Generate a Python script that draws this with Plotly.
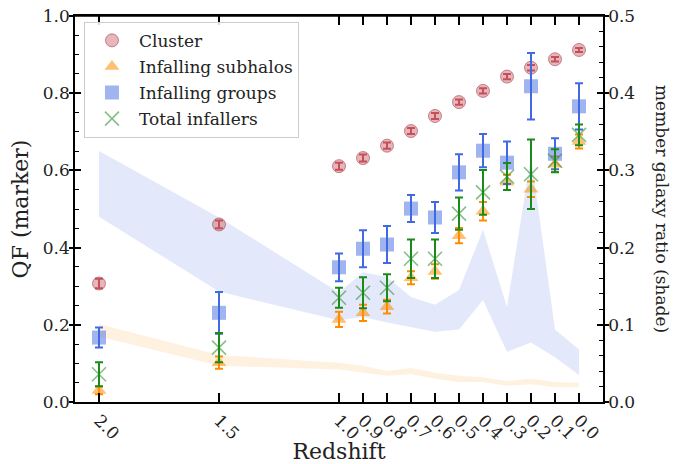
import plotly.graph_objects as go

# ---------------- data ----------------
redshift = [2.0, 1.5, 1.0, 0.9, 0.8, 0.7, 0.6, 0.5, 0.4, 0.3, 0.2, 0.1, 0.0]
x_ticks = [2.0, 1.5, 1.0, 0.9, 0.8, 0.7, 0.6, 0.5, 0.4, 0.3, 0.2, 0.1, 0.0]
x_ticklabels = ["2.0", "1.5", "1.0", "0.9", "0.8", "0.7", "0.6", "0.5", "0.4", "0.3", "0.2", "0.1", "0.0"]

qf_cluster = [0.307, 0.460, 0.611, 0.632, 0.664, 0.702, 0.741, 0.777, 0.806, 0.843, 0.866, 0.888, 0.912]
err_cluster = [0.012, 0.010, 0.009, 0.009, 0.008, 0.008, 0.008, 0.007, 0.007, 0.007, 0.007, 0.006, 0.005]

qf_subhalos = [0.030, 0.102, 0.214, 0.231, 0.247, 0.322, 0.338, 0.431, 0.494, 0.569, 0.551, 0.616, 0.675]
err_subhalos = [0.010, 0.016, 0.020, 0.021, 0.018, 0.017, 0.019, 0.020, 0.024, 0.020, 0.020, 0.020, 0.018]

qf_groups = [0.167, 0.231, 0.349, 0.397, 0.408, 0.501, 0.478, 0.595, 0.651, 0.620, 0.818, 0.643, 0.766]
err_groups = [0.026, 0.054, 0.036, 0.048, 0.048, 0.035, 0.040, 0.047, 0.043, 0.055, 0.086, 0.040, 0.060]

qf_total = [0.072, 0.141, 0.270, 0.283, 0.296, 0.371, 0.371, 0.488, 0.543, 0.584, 0.590, 0.625, 0.692]
err_total = [0.031, 0.038, 0.026, 0.040, 0.035, 0.050, 0.050, 0.042, 0.058, 0.035, 0.090, 0.030, 0.027]

# member galaxy ratio bands (right axis)
groups_ratio_hi = [0.325, 0.239, 0.142, 0.168, 0.162, 0.136, 0.126, 0.145, 0.223, 0.123, 0.318, 0.094, 0.068]
groups_ratio_lo = [0.240, 0.143, 0.106, 0.110, 0.103, 0.097, 0.091, 0.094, 0.132, 0.065, 0.077, 0.058, 0.035]
subhalos_ratio_hi = [0.101, 0.061, 0.051, 0.047, 0.040, 0.044, 0.038, 0.034, 0.032, 0.027, 0.030, 0.026, 0.025]
subhalos_ratio_lo = [0.085, 0.047, 0.042, 0.038, 0.034, 0.036, 0.030, 0.026, 0.026, 0.021, 0.023, 0.019, 0.019]

FONT = "DejaVu Serif"
INK = "#222222"

fig = go.Figure()

# ---- shaded bands on primary (right) axis y ----
fig.add_trace(go.Scatter(x=redshift, y=subhalos_ratio_lo, mode="lines", line=dict(width=0),
                         showlegend=False, hoverinfo="skip", yaxis="y"))
fig.add_trace(go.Scatter(x=redshift, y=subhalos_ratio_hi, mode="lines", line=dict(width=0),
                         fill="tonexty", fillcolor="rgba(255,140,0,0.12)",
                         showlegend=False, hoverinfo="skip", yaxis="y"))
fig.add_trace(go.Scatter(x=redshift, y=groups_ratio_lo, mode="lines", line=dict(width=0),
                         showlegend=False, hoverinfo="skip", yaxis="y"))
fig.add_trace(go.Scatter(x=redshift, y=groups_ratio_hi, mode="lines", line=dict(width=0),
                         fill="tonexty", fillcolor="rgba(65,105,225,0.15)",
                         showlegend=False, hoverinfo="skip", yaxis="y"))

# empty helper traces so the tick-only axes get drawn
fig.add_trace(go.Scatter(x=[None], y=[None], xaxis="x", yaxis="y3", mode="markers",
                         showlegend=False, hoverinfo="skip"))
fig.add_trace(go.Scatter(x=[None], y=[None], xaxis="x", yaxis="y4", mode="markers",
                         showlegend=False, hoverinfo="skip"))
fig.add_trace(go.Scatter(x=[None], y=[None], xaxis="x2", yaxis="y", mode="markers",
                         showlegend=False, hoverinfo="skip"))

# ---- markers on overlaying (left) axis y2 ----
def err(arr, color):
    return dict(type="data", array=arr, visible=True, color=color, thickness=2, width=4)

fig.add_trace(go.Scatter(
    x=redshift, y=qf_cluster, mode="markers", name="Cluster", legendgroup="a", yaxis="y2",
    marker=dict(symbol="circle", size=13, color="rgba(205,110,120,0.5)",
                line=dict(color="rgba(160,70,80,0.6)", width=1)),
    error_y=err(err_cluster, "#c0303a")))
fig.add_trace(go.Scatter(
    x=redshift, y=qf_subhalos, mode="markers", name="Infalling subhalos", legendgroup="b", yaxis="y2",
    marker=dict(symbol="triangle-up", size=13, color="rgba(255,140,0,0.55)", line=dict(width=0)),
    error_y=err(err_subhalos, "#ff8c00")))
fig.add_trace(go.Scatter(
    x=redshift, y=qf_groups, mode="markers", name="Infalling groups", legendgroup="c", yaxis="y2",
    marker=dict(symbol="square", size=14, color="rgba(65,105,225,0.5)", line=dict(width=0)),
    error_y=err(err_groups, "#4169e1")))
fig.add_trace(go.Scatter(
    x=redshift, y=qf_total, mode="markers", name="Total infallers", legendgroup="d", yaxis="y2",
    marker=dict(symbol="x-thin", size=14, color="rgba(34,139,34,0.5)",
                line=dict(color="rgba(34,139,34,0.55)", width=1.6)),
    error_y=err(err_total, "#1a8a1a")))

tickfont = dict(family=FONT, size=17, color=INK)

fig.update_layout(
    width=694, height=464,
    margin=dict(l=75, r=91, t=16, b=62, autoexpand=False),
    paper_bgcolor="white", plot_bgcolor="white",
    font=dict(family=FONT, color=INK),
    xaxis=dict(range=[2.1, -0.1], tickmode="array", tickvals=x_ticks, ticktext=x_ticklabels,
               tickangle=45, ticks="inside", ticklen=9, tickwidth=1.5, tickcolor="black",
               showline=True, linecolor="black", linewidth=1.5, mirror="ticks", showgrid=False,
               zeroline=False, tickfont=tickfont, automargin=False, ticklabeloverflow="allow",
               title=dict(text="Redshift", font=dict(family=FONT, size=22, color=INK), standoff=0)),
    xaxis2=dict(range=[2.1, -0.1], overlaying="x", side="top", anchor="y", tickmode="array",
                tickvals=x_ticks, ticks="inside", ticklen=9, tickwidth=1.5, tickcolor="black",
                showticklabels=False, showline=True, linecolor="black", linewidth=1.5,
                showgrid=False, zeroline=False, automargin=False),
    yaxis=dict(range=[0, 0.5], side="right", tickmode="array",
               tickvals=[0, 0.1, 0.2, 0.3, 0.4, 0.5],
               ticktext=["0.0", "0.1", "0.2", "0.3", "0.4", "0.5"],
               ticks="inside", ticklen=6, tickwidth=1.5, tickcolor="black",
               minor=dict(ticks="inside", ticklen=4, dtick=0.02, tickwidth=1, tickcolor="black", showgrid=False),
               showline=True, linecolor="black", linewidth=1.5, showgrid=False, zeroline=False,
               tickfont=tickfont, automargin=False, ticklabeloverflow="allow"),
    yaxis2=dict(range=[0, 1.0], overlaying="y", side="left", anchor="x", tickmode="array",
                tickvals=[0, 0.2, 0.4, 0.6, 0.8, 1.0],
                ticktext=["0.0", "0.2", "0.4", "0.6", "0.8", "1.0"],
                ticks="inside", ticklen=6, tickwidth=1.5, tickcolor="black",
                minor=dict(ticks="inside", ticklen=4, dtick=0.05, tickwidth=1, tickcolor="black", showgrid=False),
                showline=True, linecolor="black", linewidth=1.5, showgrid=False, zeroline=False,
                tickfont=tickfont, automargin=False, ticklabeloverflow="allow",
                title=dict(text="QF (marker)", font=dict(family=FONT, size=22, color=INK), standoff=8)),
    yaxis3=dict(range=[0, 1.0], overlaying="y", side="left", anchor="x", tickmode="array",
                tickvals=[0, 0.2, 0.4, 0.6, 0.8, 1.0], ticks="outside", ticklen=5, tickwidth=1.5,
                tickcolor="black", showticklabels=False, showline=False, showgrid=False,
                zeroline=False, automargin=False),
    yaxis4=dict(range=[0, 0.5], overlaying="y", side="right", anchor="x", tickmode="array",
                tickvals=[0, 0.1, 0.2, 0.3, 0.4, 0.5], ticks="outside", ticklen=5, tickwidth=1.5,
                tickcolor="black", showticklabels=False, showline=False, showgrid=False,
                zeroline=False, automargin=False),
    legend=dict(x=0.017, y=0.985, xanchor="left", yanchor="top",
                bgcolor="rgba(255,255,255,0.85)", bordercolor="#cccccc", borderwidth=1,
                font=dict(family=FONT, size=17, color=INK), tracegroupgap=1,
                itemwidth=44),
    shapes=[dict(type="line", xref="paper", yref="paper", x0=0, x1=1, y0=1, y1=1,
                 line=dict(color="black", width=1.5), layer="above")],
    annotations=[dict(text="member galaxy ratio (shade)", xref="paper", yref="paper",
                      x=1.0, y=0.5, xanchor="center", yanchor="middle", xshift=59,
                      textangle=90, showarrow=False,
                      font=dict(family=FONT, size=17, color=INK))],
    showlegend=True,
)

# remove the page's default 8px body margin so the figure sits at the window origin
fig.write_html("out.html", config={"displayModeBar": False},
               post_script="document.body.style.margin='0px';")
